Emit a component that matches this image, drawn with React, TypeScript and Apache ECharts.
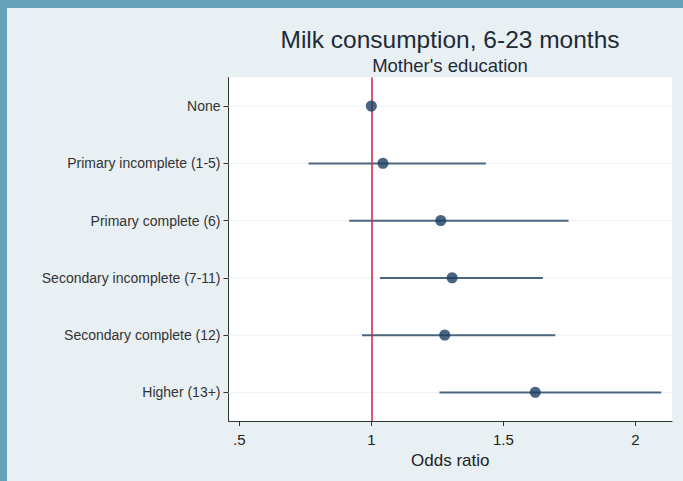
import React, { useEffect, useRef } from "react";
import * as echarts from "echarts";

const categories = [
  "None",
  "Primary incomplete (1-5)",
  "Primary complete (6)",
  "Secondary incomplete (7-11)",
  "Secondary complete (12)",
  "Higher (13+)",
];
const oddsRatio = [1.0, 1.044, 1.263, 1.306, 1.278, 1.621];
const ciLow = [1.0, 0.762, 0.916, 1.033, 0.965, 1.258];
const ciHigh = [1.0, 1.434, 1.747, 1.65, 1.697, 2.098];
const xTicks = [0.5, 1, 1.5, 2];
const referenceValue = 1;

const FONT = "'Liberation Sans', Arial, Helvetica, sans-serif";

export default function App() {
  const ref = useRef<HTMLDivElement>(null);

  useEffect(() => {
    if (!ref.current) return;
    const chart = echarts.init(ref.current, undefined, { renderer: "svg" });

    const errData = categories.map((c, i) => [ciLow[i], ciHigh[i], i]);
    const pointData = categories.map((c, i) => [oddsRatio[i], i]);
    const gridData = categories.map((c, i) => [i]);

    chart.setOption({
      animation: false,
      backgroundColor: "#e8f0f3",
      title: [
        {
          text: "Milk consumption, 6-23 months",
          left: 438,
          top: 14,
          textAlign: "center",
          textStyle: {
            fontFamily: FONT,
            fontSize: 24.5,
            fontWeight: "normal",
            color: "#1f2a38",
          },
        },
        {
          text: "Mother's education",
          left: 438,
          top: 43,
          textAlign: "center",
          textStyle: {
            fontFamily: FONT,
            fontSize: 18.5,
            fontWeight: "normal",
            color: "#1f2a38",
          },
        },
      ],
      grid: {
        left: 221.5,
        top: 69.5,
        right: 11,
        bottom: 60,
        show: true,
        backgroundColor: "#ffffff",
        borderWidth: 0,
      },
      xAxis: {
        type: "value",
        min: 0.459,
        max: 2.139,
        name: "Odds ratio",
        nameLocation: "middle",
        nameGap: 30,
        nameTextStyle: { fontFamily: FONT, fontSize: 17, color: "#222" },
        axisLine: { show: true, lineStyle: { color: "#333", width: 1 } },
        axisTick: {
          show: true,
          length: 5,
          lineStyle: { color: "#333" },
          customValues: xTicks,
        },
        axisLabel: {
          fontFamily: FONT,
          fontSize: 15,
          color: "#222",
          margin: 11,
          customValues: xTicks,
          formatter: (v: number) => (v < 1 ? String(v).replace(/^0/, "") : String(v)),
        },
        splitLine: { show: false },
      },
      yAxis: {
        type: "category",
        data: categories,
        inverse: true,
        boundaryGap: true,
        axisLine: { show: true, lineStyle: { color: "#333", width: 1 } },
        axisTick: {
          show: true,
          alignWithLabel: true,
          length: 5,
          lineStyle: { color: "#333" },
        },
        axisLabel: {
          fontFamily: FONT,
          fontSize: 14,
          color: "#333",
          margin: 8,
        },
        splitLine: { show: false },
      },
      series: [
        {
          type: "custom",
          name: "gridlines",
          z: 1,
          silent: true,
          data: gridData,
          encode: { y: 0 },
          renderItem: (params: any, api: any) => {
            const cs = params.coordSys;
            const y = api.coord([1, api.value(0)])[1];
            return {
              type: "line",
              shape: { x1: cs.x, y1: y, x2: cs.x + cs.width, y2: y },
              style: { stroke: "#edf1f4", lineWidth: 1 },
            };
          },
        },
        {
          type: "custom",
          name: "95% CI",
          z: 3,
          data: errData,
          encode: { x: [0, 1], y: 2 },
          renderItem: (params: any, api: any) => {
            const p1 = api.coord([api.value(0), api.value(2)]);
            const p2 = api.coord([api.value(1), api.value(2)]);
            return {
              type: "line",
              shape: { x1: p1[0], y1: p1[1], x2: p2[0], y2: p2[1] },
              style: { stroke: "#4d6680", lineWidth: 2 },
            };
          },
        },
        {
          type: "scatter",
          name: "Odds ratio",
          z: 5,
          data: pointData,
          symbol: "circle",
          symbolSize: 11,
          itemStyle: { color: "#1a3f63" },
          markLine: {
            silent: true,
            symbol: "none",
            label: { show: false },
            lineStyle: { color: "#c8254a", width: 1.5, type: "solid" },
            data: [{ xAxis: referenceValue }],
            z: 4,
          },
        },
      ],
    });

    return () => chart.dispose();
  }, []);

  return (
    <div
      style={{
        position: "absolute",
        left: 0,
        top: 0,
        width: 683,
        height: 481,
        background: "#66a3bb",
      }}
    >
      <div
        ref={ref}
        style={{ position: "absolute", left: 7, top: 8, width: 676, height: 473 }}
      />
    </div>
  );
}
